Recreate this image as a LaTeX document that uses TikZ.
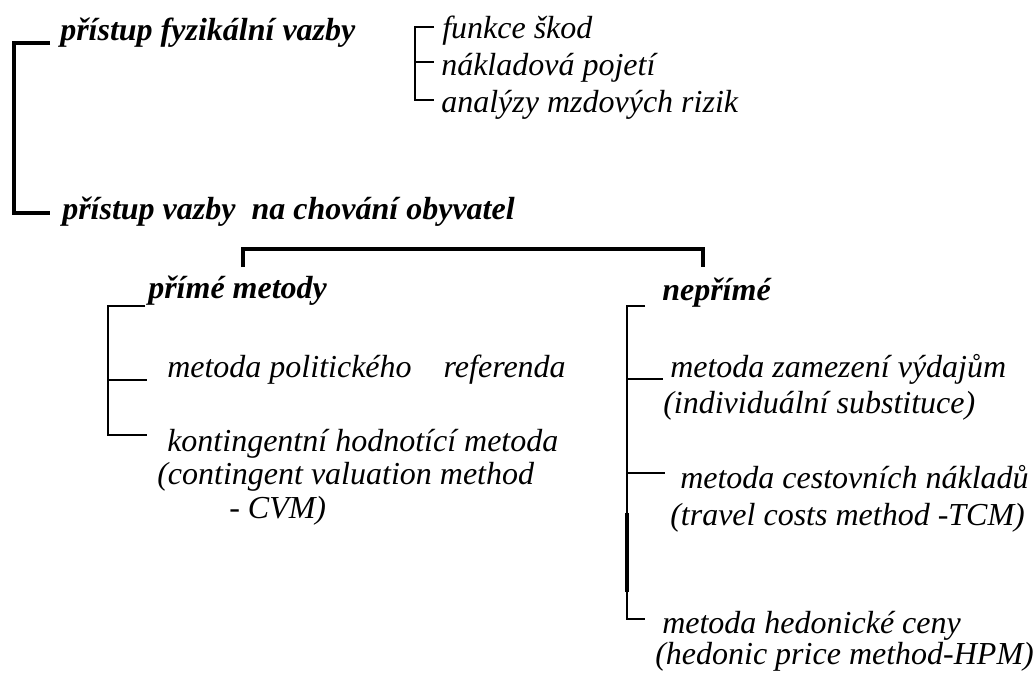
\documentclass[tikz,border=0pt]{standalone}
\usepackage{fontspec}
\setmainfont{Liberation Serif}
\usetikzlibrary{calc}

\tikzset{
  txt/.style={anchor=base west, inner sep=0pt, font=\fontsize{24}{28}\selectfont\itshape},
  head/.style={txt, font=\fontsize{24}{28}\selectfont\bfseries\itshape},
  thickln/.style={line width=3pt},
  thinln/.style={line width=1.5pt}
}

\begin{document}
\begin{tikzpicture}[x=0.75pt, y=-0.75pt]
\useasboundingbox (0,0) rectangle (1035,675);
% hlavni vetve
\node[head] (fyz) at (60,40) {přístup fyzikální vazby};
\node[head] (chov) at (62,219) {přístup vazby\ \ na chování obyvatel};
\coordinate (sp0) at (14,0);
\coordinate (f0) at ($(fyz.base west)+(-10,3)$);
\coordinate (c0) at ($(chov.base west)+(-12,-6)$);
\draw[thickln] (f0) -- (f0 -| sp0) -- (c0 -| sp0) -- (c0);
% fyzikalni vazby
\node[txt] (skod) at (442,38) {funkce škod};
\node[txt] (naklad) at (441,75) {nákladová pojetí};
\node[txt] (mzdy) at (441,112) {analýzy mzdových rizik};
\coordinate (sp1) at (415,0);
\coordinate (s1) at ($(skod.base west)+(-8,-11)$);
\coordinate (n1) at ($(naklad.base west)+(-7,-13)$);
\coordinate (m1) at ($(mzdy.base west)+(-7,-12)$);
\draw[thinln] (s1) -- (s1 -| sp1) -- (m1 -| sp1) -- (m1);
\draw[thinln] (n1 -| sp1) -- (n1);
% rozdeleni
\node[head] (prime) at (148,298) {přímé metody};
\node[head] (neprime) at (662,300) {nepřímé};
\coordinate (mL) at (243,267);
\coordinate (mR) at (703,267);
\draw[thickln] (mL) -- ++(0,-18) -| (mR);
% prime metody
\node[txt] (refer) at (167,377) {metoda politického\hspace{24pt}referenda};
\node[txt] (konting) at (167,451) {kontingentní hodnotící metoda};
\node[txt] (cvm1) at (157,484) {(contingent valuation method};
\node[txt] (cvm2) at (229,518) {- CVM)};
\coordinate (sp2) at (108,0);
\coordinate (p2) at ($(prime.base west)+(-3,8)$);
\coordinate (r2) at ($(refer.base west)+(-20,3)$);
\coordinate (k2) at ($(konting.base west)+(-20,-16)$);
\draw[thinln] (p2) -- (p2 -| sp2) -- (k2 -| sp2) -- (k2);
\draw[thinln] (r2 -| sp2) -- (r2);
% neprime metody
\node[txt] (zamez) at (670,377) {metoda zamezení výdajům};
\node[txt] (indiv) at (663,413) {(individuální substituce)};
\node[txt] (cest) at (680,488) {metoda cestovních nákladů};
\node[txt] (tcm) at (670,525) {(travel costs method -TCM)};
\node[txt] (hedon) at (662,633) {metoda hedonické ceny};
\node[txt] (hpm) at (655,664) {(hedonic price method-HPM)};
\coordinate (sp3) at (627,0);
\coordinate (n3) at ($(neprime.base west)+(-17,6)$);
\coordinate (z3) at ($(zamez.base west)+(-7,2)$);
\coordinate (c3) at ($(cest.base west)+(-15,-15)$);
\coordinate (h3) at ($(hedon.base west)+(-17,-14)$);
\draw[thinln] (n3) -- (n3 -| sp3) -- (h3 -| sp3) -- (h3);
\draw[thinln] (z3 -| sp3) -- (z3);
\draw[thinln] (c3 -| sp3) -- (c3);
% zesileny usek
\coordinate (d1) at (627,513);
\coordinate (d2) at (627,592);
\draw[line width=2.5pt] (d1) -- (d2);
\end{tikzpicture}
\end{document}
